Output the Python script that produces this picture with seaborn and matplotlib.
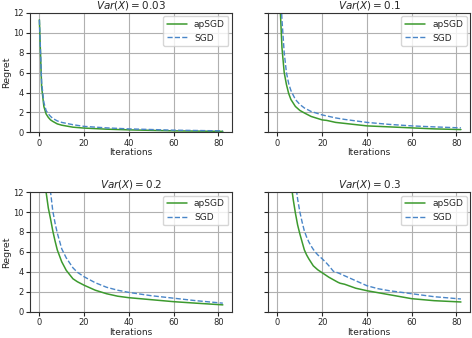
import numpy as np
import pandas as pd
import matplotlib
matplotlib.use("Agg")
import matplotlib.pyplot as plt
import seaborn as sns

# Values (Regret vs Iterations)
titles = ["$Var(X) = 0.03$", "$Var(X) = 0.1$", "$Var(X) = 0.2$", "$Var(X) = 0.3$"]

x_003 = [0, 1, 2, 3, 4, 5, 6, 8, 10, 15, 20, 30, 40, 60, 82]
ap_003 = [11.3, 4.6, 2.6, 1.85, 1.5, 1.25, 1.1, 0.85, 0.72, 0.52, 0.43, 0.32, 0.25, 0.15, 0.1]
sgd_003 = [11.3, 5.0, 3.0, 2.2, 1.85, 1.6, 1.4, 1.15, 1.0, 0.77, 0.6, 0.45, 0.35, 0.22, 0.15]

x_01 = [0, 1, 2, 3, 4, 5, 6, 8, 10, 12, 15, 20, 22, 26, 30, 40, 50, 60, 70, 82]
ap_01 = [30, 13.5, 8.5, 6.0, 4.8, 3.9, 3.3, 2.6, 2.2, 1.95, 1.6, 1.25, 1.2, 1.0, 0.9, 0.65, 0.55, 0.45, 0.35, 0.28]
sgd_01 = [35, 16.0, 11.3, 8.0, 6.0, 4.9, 4.2, 3.3, 2.8, 2.45, 2.1, 1.75, 1.65, 1.45, 1.3, 1.0, 0.8, 0.65, 0.55, 0.45]

x_02 = [0, 1, 2, 3, 4, 5, 6, 7, 8, 10, 12, 15, 17, 20, 25, 30, 35, 40, 50, 60, 70, 82]
ap_02 = [35, 20, 15, 12.0, 10.4, 9.3, 8.1, 7.1, 6.2, 5.0, 4.15, 3.3, 3.0, 2.65, 2.15, 1.8, 1.55, 1.4, 1.2, 1.0, 0.85, 0.68]
sgd_02 = [40, 26, 20, 16, 14, 12.0, 10.1, 8.9, 7.9, 6.3, 5.4, 4.4, 3.95, 3.5, 2.9, 2.45, 2.15, 1.93, 1.6, 1.35, 1.1, 0.85]

x_03 = [0, 3, 5, 6, 7, 8, 9, 10, 11, 12, 13, 14, 15, 16, 17, 18, 20, 22, 23, 25, 27, 28, 30, 35, 40, 45, 50, 60, 70, 82]
ap_03 = [40, 22, 16, 13.0, 11.3, 9.9, 8.7, 7.8, 7.0, 6.2, 5.7, 5.3, 4.95, 4.6, 4.4, 4.2, 3.9, 3.6, 3.45, 3.2, 2.95, 2.85, 2.75, 2.35, 2.1, 1.9, 1.7, 1.3, 1.1, 0.97]
sgd_03 = [45, 25, 18, 16, 14.5, 13.0, 11.3, 10.0, 9.0, 8.1, 7.5, 7.0, 6.6, 6.25, 5.95, 5.7, 5.3, 4.85, 4.6, 4.05, 3.9, 3.8, 3.6, 3.1, 2.6, 2.3, 2.1, 1.8, 1.5, 1.27]

panels = [(x_003, ap_003, sgd_003), (x_01, ap_01, sgd_01),
          (x_02, ap_02, sgd_02), (x_03, ap_03, sgd_03)]

sns.set_style("ticks", {"axes.grid": True, "grid.color": "#b0b0b0",
                        "axes.edgecolor": "#333333"})
plt.rcParams["font.family"] = ["DejaVu Sans"]
plt.rcParams["grid.linewidth"] = 0.8

fig, axes = plt.subplots(2, 2, figsize=(4.72, 3.38), dpi=100, sharey=True)
fig.subplots_adjust(left=0.064, right=0.996, top=0.962, bottom=0.078,
                    wspace=0.18, hspace=0.50)

for ax, title, (xs, ap, sgd) in zip(axes.flat, titles, panels):
    df = pd.DataFrame({"Iterations": xs, "apSGD": ap, "SGD": sgd})
    sns.lineplot(data=df, x="Iterations", y="apSGD", ax=ax, color="#3c9a2e",
                 linewidth=1.1, label="apSGD")
    sns.lineplot(data=df, x="Iterations", y="SGD", ax=ax, color="#4a86c8",
                 linewidth=1.0, linestyle="--", label="SGD")
    ax.set_ylim(0, 12)
    ax.set_yticks([0, 2, 4, 6, 8, 10, 12])
    ax.set_xticks([0, 20, 40, 60, 80])
    ax.set_title(title, fontsize=7.5, pad=3)
    ax.set_xlabel("Iterations", fontsize=6.5, labelpad=0.5)
    ax.set_ylabel("")
    ax.tick_params(labelsize=6, length=3, width=0.8, pad=1.5)
    ax.legend(loc="upper right", fontsize=6.5, handlelength=2.2,
              borderaxespad=0.4, framealpha=0.8, edgecolor="#cccccc")
    for s in ax.spines.values():
        s.set_linewidth(0.8)

axes[0, 0].set_ylabel("Regret", fontsize=6.8, labelpad=1.5)
axes[1, 0].set_ylabel("Regret", fontsize=6.8, labelpad=1.5)

fig.savefig("out.png", dpi=100)
